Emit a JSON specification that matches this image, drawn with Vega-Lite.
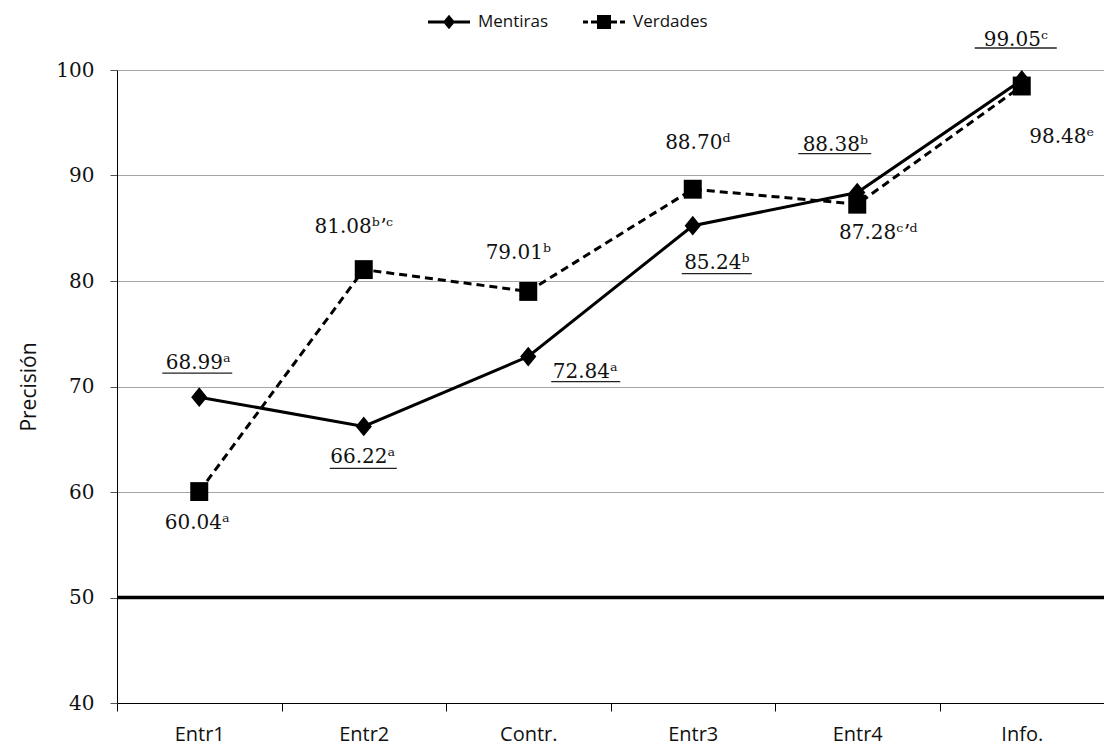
{
  "$schema": "https://vega.github.io/schema/vega-lite/v6.json",
  "width": 987,
  "height": 633,
  "autosize": "none",
  "padding": {"left": 117, "top": 70, "right": 0, "bottom": 46},
  "background": "white",
  "config": {"view": {"stroke": null}, "font": "DejaVu Serif"},
  "resolve": {"scale": {"shape": "independent"}, "legend": {"shape": "independent"}},
  "data": {
    "values": [
      {"cat": "Entr1", "serie": "Mentiras", "value": 68.99, "label": "68.99ᵃ"},
      {"cat": "Entr2", "serie": "Mentiras", "value": 66.22, "label": "66.22ᵃ"},
      {"cat": "Contr.", "serie": "Mentiras", "value": 72.84, "label": "72.84ᵃ"},
      {"cat": "Entr3", "serie": "Mentiras", "value": 85.24, "label": "85.24ᵇ"},
      {"cat": "Entr4", "serie": "Mentiras", "value": 88.38, "label": "88.38ᵇ"},
      {"cat": "Info.", "serie": "Mentiras", "value": 99.05, "label": "99.05ᶜ"},
      {"cat": "Entr1", "serie": "Verdades", "value": 60.04, "label": "60.04ᵃ"},
      {"cat": "Entr2", "serie": "Verdades", "value": 81.08, "label": "81.08ᵇʼᶜ"},
      {"cat": "Contr.", "serie": "Verdades", "value": 79.01, "label": "79.01ᵇ"},
      {"cat": "Entr3", "serie": "Verdades", "value": 88.70, "label": "88.70ᵈ"},
      {"cat": "Entr4", "serie": "Verdades", "value": 87.28, "label": "87.28ᶜʼᵈ"},
      {"cat": "Info.", "serie": "Verdades", "value": 98.48, "label": "98.48ᵉ"}
    ]
  },
  "layer": [
    {
      "transform": [{"filter": "datum.serie === 'Mentiras'"}],
      "mark": {"type": "line", "color": "black", "strokeWidth": 3},
      "encoding": {
        "x": {
          "field": "cat", "type": "nominal",
          "sort": ["Entr1", "Entr2", "Contr.", "Entr3", "Entr4", "Info."],
          "scale": {"type": "band", "paddingInner": 0, "paddingOuter": 0},
          "axis": {
            "title": null, "labelAngle": 0, "tickBand": "extent", "grid": false,
            "domainColor": "black", "domainWidth": 1, "tickColor": "black", "tickSize": 8,
            "labelFont": "Open Sans", "labelFontSize": 20, "labelColor": "#111", "labelPadding": 13
          }
        },
        "y": {
          "field": "value", "type": "quantitative",
          "scale": {"domain": [40, 100], "nice": false},
          "axis": {
            "title": "Precisión", "titleFont": "Open Sans", "titleFontSize": 21, "titleFontWeight": "normal",
            "titleColor": "#111", "titlePadding": 16,
            "values": [40, 50, 60, 70, 80, 90, 100],
            "grid": true, "gridColor": "#a6a6a6", "gridWidth": 1,
            "domainColor": "black", "tickColor": "#555", "tickSize": 7,
            "labelFont": "DejaVu Serif", "labelFontSize": 20, "labelColor": "#111", "labelPadding": 16
          }
        }
      }
    },
    {
      "transform": [{"filter": "datum.serie === 'Verdades'"}],
      "mark": {"type": "line", "color": "black", "strokeWidth": 3, "strokeDash": [8, 5]},
      "encoding": {
        "x": {"field": "cat", "type": "nominal", "sort": ["Entr1", "Entr2", "Contr.", "Entr3", "Entr4", "Info."]},
        "y": {"field": "value", "type": "quantitative"}
      }
    },
    {
      "data": {"values": [{"ref": 50}]},
      "mark": {"type": "rule", "color": "black", "strokeWidth": 3.5},
      "encoding": {"y": {"field": "ref", "type": "quantitative"}}
    },
    {
      "mark": {"type": "point", "filled": true, "opacity": 1, "size": 324, "color": "black"},
      "encoding": {
        "x": {"field": "cat", "type": "nominal", "sort": ["Entr1", "Entr2", "Contr.", "Entr3", "Entr4", "Info."]},
        "y": {"field": "value", "type": "quantitative"},
        "shape": {
          "field": "serie", "type": "nominal",
          "scale": {"domain": ["Mentiras", "Verdades"], "range": ["M0,-1.1L0.9,0L0,1.1L-0.9,0Z", "M-1,-1.05H1V1.05H-1Z"]},
          "legend": null
        }
      }
    },
    {
      "mark": {"type": "point", "filled": true, "color": "black", "opacity": 0, "size": 1},
      "encoding": {
        "x": {"field": "cat", "type": "nominal", "sort": ["Entr1", "Entr2", "Contr.", "Entr3", "Entr4", "Info."]},
        "y": {"field": "value", "type": "quantitative"},
        "shape": {
          "field": "serie", "type": "nominal",
          "scale": {"domain": ["Mentiras", "Verdades"], "range": ["M-2.1,-0.15H2.1V0.15H-2.1ZM0,-0.72L0.6,0L0,0.72L-0.6,0Z", "M-2.1,-0.15H-1.6V0.15H-2.1ZM-1.3,-0.15H-0.7V0.15H-1.3ZM0.7,-0.15H1.3V0.15H0.7ZM1.6,-0.15H2.1V0.15H1.6ZM-0.7,-0.7H0.7V0.7H-0.7Z"]},
          "legend": {
            "title": null, "orient": "none", "legendX": 322, "legendY": -58, "direction": "horizontal",
            "labelFont": "Open Sans", "labelFontSize": 17, "labelColor": "#111", "labelOffset": 19,
            "symbolSize": 400, "columnPadding": 34,
            "symbolFillColor": "black", "symbolStrokeColor": "black", "symbolStrokeWidth": 0, "symbolOpacity": 1
          }
        }
      }
    },
    {"transform": [{"filter": "datum.serie === 'Mentiras' && datum.cat === 'Entr1'"}], "mark": {"type": "text", "fontSize": 20, "color": "#111", "dx": -1, "dy": -34}, "encoding": {"x": {"field": "cat", "type": "nominal", "sort": ["Entr1", "Entr2", "Contr.", "Entr3", "Entr4", "Info."]}, "y": {"field": "value", "type": "quantitative"}, "text": {"field": "label"}}},
    {"transform": [{"filter": "datum.serie === 'Mentiras' && datum.cat === 'Entr2'"}], "mark": {"type": "text", "fontSize": 20, "color": "#111", "dx": -1, "dy": 31}, "encoding": {"x": {"field": "cat", "type": "nominal", "sort": ["Entr1", "Entr2", "Contr.", "Entr3", "Entr4", "Info."]}, "y": {"field": "value", "type": "quantitative"}, "text": {"field": "label"}}},
    {"transform": [{"filter": "datum.serie === 'Mentiras' && datum.cat === 'Contr.'"}], "mark": {"type": "text", "fontSize": 20, "color": "#111", "dx": 57, "dy": 15}, "encoding": {"x": {"field": "cat", "type": "nominal", "sort": ["Entr1", "Entr2", "Contr.", "Entr3", "Entr4", "Info."]}, "y": {"field": "value", "type": "quantitative"}, "text": {"field": "label"}}},
    {"transform": [{"filter": "datum.serie === 'Mentiras' && datum.cat === 'Entr3'"}], "mark": {"type": "text", "fontSize": 20, "color": "#111", "dx": 24, "dy": 37}, "encoding": {"x": {"field": "cat", "type": "nominal", "sort": ["Entr1", "Entr2", "Contr.", "Entr3", "Entr4", "Info."]}, "y": {"field": "value", "type": "quantitative"}, "text": {"field": "label"}}},
    {"transform": [{"filter": "datum.serie === 'Mentiras' && datum.cat === 'Entr4'"}], "mark": {"type": "text", "fontSize": 20, "color": "#111", "dx": -22, "dy": -48}, "encoding": {"x": {"field": "cat", "type": "nominal", "sort": ["Entr1", "Entr2", "Contr.", "Entr3", "Entr4", "Info."]}, "y": {"field": "value", "type": "quantitative"}, "text": {"field": "label"}}},
    {"transform": [{"filter": "datum.serie === 'Mentiras' && datum.cat === 'Info.'"}], "mark": {"type": "text", "fontSize": 20, "color": "#111", "dx": -6, "dy": -40}, "encoding": {"x": {"field": "cat", "type": "nominal", "sort": ["Entr1", "Entr2", "Contr.", "Entr3", "Entr4", "Info."]}, "y": {"field": "value", "type": "quantitative"}, "text": {"field": "label"}}},
    {"transform": [{"filter": "datum.serie === 'Verdades' && datum.cat === 'Entr1'"}], "mark": {"type": "text", "fontSize": 20, "color": "#111", "dx": -2, "dy": 31}, "encoding": {"x": {"field": "cat", "type": "nominal", "sort": ["Entr1", "Entr2", "Contr.", "Entr3", "Entr4", "Info."]}, "y": {"field": "value", "type": "quantitative"}, "text": {"field": "label"}}},
    {"transform": [{"filter": "datum.serie === 'Verdades' && datum.cat === 'Entr2'"}], "mark": {"type": "text", "fontSize": 20, "color": "#111", "dx": -10, "dy": -43}, "encoding": {"x": {"field": "cat", "type": "nominal", "sort": ["Entr1", "Entr2", "Contr.", "Entr3", "Entr4", "Info."]}, "y": {"field": "value", "type": "quantitative"}, "text": {"field": "label"}}},
    {"transform": [{"filter": "datum.serie === 'Verdades' && datum.cat === 'Contr.'"}], "mark": {"type": "text", "fontSize": 20, "color": "#111", "dx": -10, "dy": -38}, "encoding": {"x": {"field": "cat", "type": "nominal", "sort": ["Entr1", "Entr2", "Contr.", "Entr3", "Entr4", "Info."]}, "y": {"field": "value", "type": "quantitative"}, "text": {"field": "label"}}},
    {"transform": [{"filter": "datum.serie === 'Verdades' && datum.cat === 'Entr3'"}], "mark": {"type": "text", "fontSize": 20, "color": "#111", "dx": 5, "dy": -46}, "encoding": {"x": {"field": "cat", "type": "nominal", "sort": ["Entr1", "Entr2", "Contr.", "Entr3", "Entr4", "Info."]}, "y": {"field": "value", "type": "quantitative"}, "text": {"field": "label"}}},
    {"transform": [{"filter": "datum.serie === 'Verdades' && datum.cat === 'Entr4'"}], "mark": {"type": "text", "fontSize": 20, "color": "#111", "dx": 21, "dy": 29}, "encoding": {"x": {"field": "cat", "type": "nominal", "sort": ["Entr1", "Entr2", "Contr.", "Entr3", "Entr4", "Info."]}, "y": {"field": "value", "type": "quantitative"}, "text": {"field": "label"}}},
    {"transform": [{"filter": "datum.serie === 'Verdades' && datum.cat === 'Info.'"}], "mark": {"type": "text", "fontSize": 20, "color": "#111", "dx": 40, "dy": 51}, "encoding": {"x": {"field": "cat", "type": "nominal", "sort": ["Entr1", "Entr2", "Contr.", "Entr3", "Entr4", "Info."]}, "y": {"field": "value", "type": "quantitative"}, "text": {"field": "label"}}},
    {"transform": [{"filter": "datum.serie === 'Mentiras' && datum.cat === 'Entr1'"}], "mark": {"type": "rule", "color": "#222", "strokeWidth": 1.3, "xOffset": -37, "x2Offset": 33, "yOffset": -24}, "encoding": {"x": {"field": "cat", "type": "nominal", "sort": ["Entr1", "Entr2", "Contr.", "Entr3", "Entr4", "Info."]}, "x2": {"field": "cat"}, "y": {"field": "value", "type": "quantitative"}}},
    {"transform": [{"filter": "datum.serie === 'Mentiras' && datum.cat === 'Entr2'"}], "mark": {"type": "rule", "color": "#222", "strokeWidth": 1.3, "xOffset": -34, "x2Offset": 33, "yOffset": 42}, "encoding": {"x": {"field": "cat", "type": "nominal", "sort": ["Entr1", "Entr2", "Contr.", "Entr3", "Entr4", "Info."]}, "x2": {"field": "cat"}, "y": {"field": "value", "type": "quantitative"}}},
    {"transform": [{"filter": "datum.serie === 'Mentiras' && datum.cat === 'Contr.'"}], "mark": {"type": "rule", "color": "#222", "strokeWidth": 1.3, "xOffset": 23, "x2Offset": 92, "yOffset": 25}, "encoding": {"x": {"field": "cat", "type": "nominal", "sort": ["Entr1", "Entr2", "Contr.", "Entr3", "Entr4", "Info."]}, "x2": {"field": "cat"}, "y": {"field": "value", "type": "quantitative"}}},
    {"transform": [{"filter": "datum.serie === 'Mentiras' && datum.cat === 'Entr3'"}], "mark": {"type": "rule", "color": "#222", "strokeWidth": 1.3, "xOffset": -11, "x2Offset": 59, "yOffset": 48}, "encoding": {"x": {"field": "cat", "type": "nominal", "sort": ["Entr1", "Entr2", "Contr.", "Entr3", "Entr4", "Info."]}, "x2": {"field": "cat"}, "y": {"field": "value", "type": "quantitative"}}},
    {"transform": [{"filter": "datum.serie === 'Mentiras' && datum.cat === 'Entr4'"}], "mark": {"type": "rule", "color": "#222", "strokeWidth": 1.3, "xOffset": -59, "x2Offset": 14, "yOffset": -39}, "encoding": {"x": {"field": "cat", "type": "nominal", "sort": ["Entr1", "Entr2", "Contr.", "Entr3", "Entr4", "Info."]}, "x2": {"field": "cat"}, "y": {"field": "value", "type": "quantitative"}}},
    {"transform": [{"filter": "datum.serie === 'Mentiras' && datum.cat === 'Info.'"}], "mark": {"type": "rule", "color": "#222", "strokeWidth": 1.3, "xOffset": -47, "x2Offset": 35, "yOffset": -32}, "encoding": {"x": {"field": "cat", "type": "nominal", "sort": ["Entr1", "Entr2", "Contr.", "Entr3", "Entr4", "Info."]}, "x2": {"field": "cat"}, "y": {"field": "value", "type": "quantitative"}}}
  ]
}
